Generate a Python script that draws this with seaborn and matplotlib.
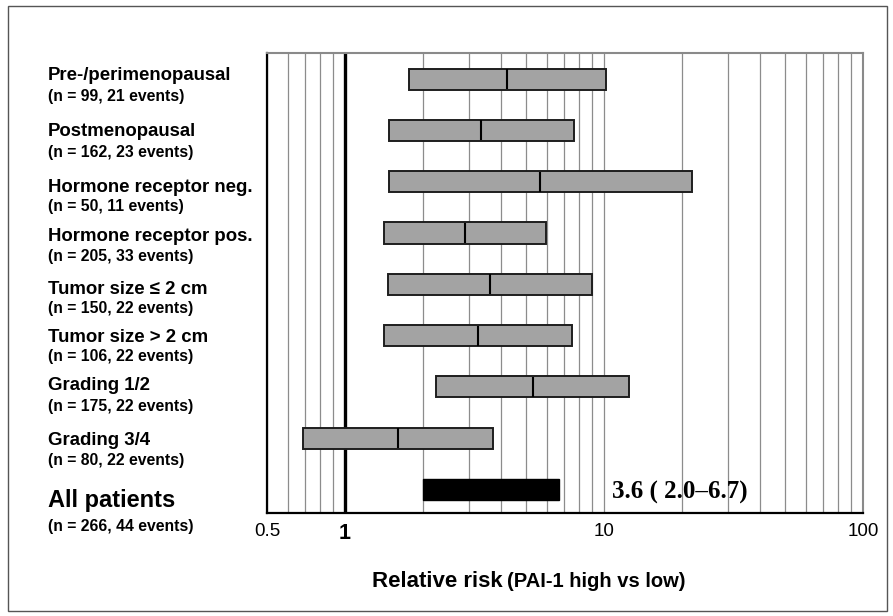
import matplotlib
matplotlib.use("Agg")
import matplotlib.pyplot as plt
from matplotlib.patches import Rectangle
from matplotlib.ticker import FixedLocator, LogLocator, NullFormatter
import numpy as np
import pandas as pd
import seaborn as sns

# subgroups, top to bottom
groups = ["Pre-/perimenopausal", "Postmenopausal", "Hormone receptor neg.",
          "Hormone receptor pos.", "Tumor size \u2264 2 cm", "Tumor size > 2 cm",
          "Grading 1/2", "Grading 3/4", "All patients"]
counts = ["(n = 99, 21 events)", "(n = 162, 23 events)", "(n = 50, 11 events)",
          "(n = 205, 33 events)", "(n = 150, 22 events)", "(n = 106, 22 events)",
          "(n = 175, 22 events)", "(n = 80, 22 events)", "(n = 266, 44 events)"]
rr = [4.22, 3.35, 5.66, 2.9, 3.63, 3.26, 5.32, 1.6, 3.6]
ci_low = [1.77, 1.48, 1.48, 1.42, 1.47, 1.42, 2.25, 0.69, 2.0]
ci_high = [10.2, 7.66, 21.9, 5.97, 8.99, 7.53, 12.5, 3.72, 6.7]
xticks = [0.5, 1, 10, 100]
xticklabels = ["0.5", "1", "10", "100"]
overall_text = "3.6 ( 2.0\u20136.7)"

df = pd.DataFrame({"group": groups, "rr": rr, "low": ci_low, "high": ci_high})
df["row"] = np.arange(len(df))
subs = df.iloc[:-1]
overall = df.iloc[-1]

sns.set_theme(style="white")
plt.rcParams["font.family"] = ["Liberation Sans", "DejaVu Sans"]
plt.rcParams["text.color"] = "black"

W, H = 893, 616
fig = plt.figure(figsize=(W / 100, H / 100), dpi=100)
ax = fig.add_axes([267 / W, 103 / H, 596 / W, 460 / H])

# CI bars
bar_h = 0.41
ax.barh(subs["row"], subs["high"] - subs["low"], left=subs["low"], height=bar_h,
        color="#a3a3a3", edgecolor="#1e1e1e", linewidth=1.4, zorder=3)
ax.barh(overall["row"], overall["high"] - overall["low"], left=overall["low"],
        height=bar_h, color="black", edgecolor="black", linewidth=1, zorder=3)

# point estimates as vertical ticks
sns.scatterplot(data=subs, x="rr", y="row", marker="|", s=15.0 ** 2,
                color="black", linewidth=1.5, legend=False, ax=ax, zorder=4)

ax.set_xscale("log")
ax.set_xlim(0.5, 100)
ax.set_ylim(8.46, -0.51)
ax.xaxis.set_major_locator(FixedLocator(xticks))
ax.xaxis.set_minor_locator(LogLocator(base=10, subs=np.arange(2, 10)))
ax.xaxis.set_minor_formatter(NullFormatter())
ax.set_xticks(xticks, xticklabels)
ax.set_yticks([])
ax.set_xlabel("")
ax.set_ylabel("")
ax.grid(which="both", axis="x", color="#8c8c8c", linewidth=0.9, zorder=0)
ax.axvline(1, color="black", linewidth=2.4, zorder=2)
ax.tick_params(axis="x", which="both", length=0, pad=7)
for lab in ax.get_xticklabels():
    lab.set_fontsize(13.5)
    lab.set_color("black")
ax.get_xticklabels()[1].set_fontweight("bold")
ax.get_xticklabels()[1].set_fontsize(15.5)

for side in ["left", "bottom"]:
    ax.spines[side].set_color("black")
    ax.spines[side].set_linewidth(1.6)
for side in ["top", "right"]:
    ax.spines[side].set_color("#8a8a8a")
    ax.spines[side].set_linewidth(1.5)

# row labels (pixel centres, top to bottom)
title_y = [75, 131.5, 187, 236, 290, 337, 385.5, 440.5, 501]
count_y = [97, 152.5, 206.5, 256, 309, 357, 406, 461, 526]
for i in range(len(groups)):
    big = i == len(groups) - 1
    fig.text(48 / W, 1 - title_y[i] / H, groups[i], fontsize=17 if big else 13.4,
             fontweight="bold", va="center", ha="left", color="black")
    fig.text(48 / W, 1 - count_y[i] / H, counts[i], fontsize=11.3,
             fontweight="bold", va="center", ha="left", color="black")

ax.text(612 / W, 1 - 492 / H, overall_text, transform=fig.transFigure,
        fontsize=18, fontweight="bold", family="Liberation Serif",
        va="center", ha="left", color="black")

fig.text(503 / W, 1 - 587 / H, "Relative risk", fontsize=16, fontweight="bold",
         ha="right", va="baseline", color="black")
fig.text(507 / W, 1 - 587 / H, "(PAI-1 high vs low)", fontsize=14.5,
         fontweight="bold", ha="left", va="baseline", color="black")

fig.patches.append(Rectangle((8 / W, 1 - 611 / H), 879 / W, 605 / H,
                             transform=fig.transFigure, fill=False,
                             edgecolor="#555555", linewidth=1))

fig.savefig("out.png", dpi=100)
